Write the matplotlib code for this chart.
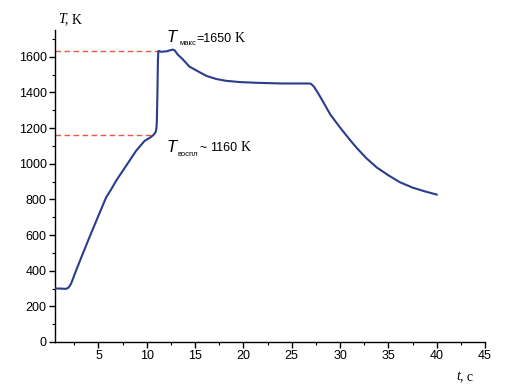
import matplotlib
matplotlib.use("Agg")
import matplotlib.pyplot as plt
from matplotlib.ticker import MultipleLocator

# temperature history
time_s = [0.5, 1.0, 1.65, 1.9, 2.17, 2.69, 3.38, 4.07, 4.93, 5.8, 6.3,
          6.83, 7.87, 8.9, 9.77, 10.2, 10.46, 10.7, 10.9, 11.0, 11.04,
          11.1, 11.15, 11.2, 11.5, 12.0, 12.4, 12.7, 12.9, 13.2, 13.7,
          14.4, 15.5, 16.2, 17.2, 18.2, 19.6, 21.3, 24.0, 26.8, 27.0,
          27.3, 27.7, 28.2, 29.0, 30.0, 31.0, 31.7, 32.7, 33.8, 35.0,
          36.2, 37.5, 38.7, 40.0]
temp_k = [300, 300, 298, 305, 328, 402, 496, 588, 700, 812, 855,
          905, 989, 1073, 1128, 1142, 1151, 1162, 1175, 1200, 1240,
          1400, 1580, 1632, 1628, 1630, 1636, 1640, 1635, 1612, 1587,
          1545, 1512, 1492, 1475, 1465, 1458, 1454, 1450, 1450, 1448,
          1432, 1398, 1352, 1275, 1203, 1135, 1090, 1032, 979, 935,
          896, 866, 846, 827]

t_max = 1635
t_max_end = 11.2
t_ign = 1160
t_ign_end = 10.6

plt.rcParams["font.family"] = ["Liberation Sans", "DejaVu Sans"]

fig = plt.figure(figsize=(5.08, 3.9), dpi=100)
ax = fig.add_axes([55 / 508, 1 - 342 / 390, 430 / 508, 312 / 390])

ax.plot(time_s, temp_k, color="#2a3c8e", lw=1.5, zorder=3,
        solid_joinstyle="round")
ax.plot([0.5, t_max_end], [t_max, t_max], color="#e65a45", lw=1.0,
        ls=(0, (4, 2.5)), zorder=2)
ax.plot([0.5, t_ign_end], [t_ign, t_ign], color="#e65a45", lw=1.0,
        ls=(0, (4, 2.5)), zorder=2)

ax.set_xlim(0.5, 45)
ax.set_ylim(0, 1750)
ax.xaxis.set_major_locator(MultipleLocator(5))
ax.xaxis.set_minor_locator(MultipleLocator(2.5))
ax.yaxis.set_minor_locator(MultipleLocator(100))
ax.set_yticks(range(0, 1601, 200))
ax.spines["top"].set_visible(False)
ax.spines["right"].set_visible(False)
for s in ("left", "bottom"):
    ax.spines[s].set_linewidth(1.0)
ax.tick_params(which="major", direction="out", length=4, width=1.0,
               labelsize=9, pad=2)
ax.tick_params(which="minor", direction="out", length=2.5, width=0.8)


def ftext(px, py, s, **kw):
    fig.text(px / 508, 1 - py / 390, s, va="baseline", ha="left", **kw)


# axis labels
ftext(58, 23, "T", family="Liberation Serif", style="italic", fontsize=10)
ftext(65, 23, ", K", family="Liberation Serif", fontsize=10)
ftext(456, 380, "t", family="Liberation Serif", style="italic", fontsize=10)
ftext(460, 380, ", c", family="Liberation Serif", fontsize=10)

# annotations
ftext(167, 42, "T", style="italic", fontsize=12)
ftext(179, 45, "макс", fontsize=5.5)
ftext(196, 42, "=1650", fontsize=9)
ftext(235, 42, "K", family="Liberation Serif", fontsize=10)

ftext(166, 152, "T", style="italic", fontsize=12)
ftext(178, 156, "воспл", fontsize=5.5)
ftext(199, 151, "~", fontsize=9)
ftext(210, 151, "1160", fontsize=9)
ftext(241, 151, "K", family="Liberation Serif", fontsize=10)

fig.savefig("out.png", dpi=100)
